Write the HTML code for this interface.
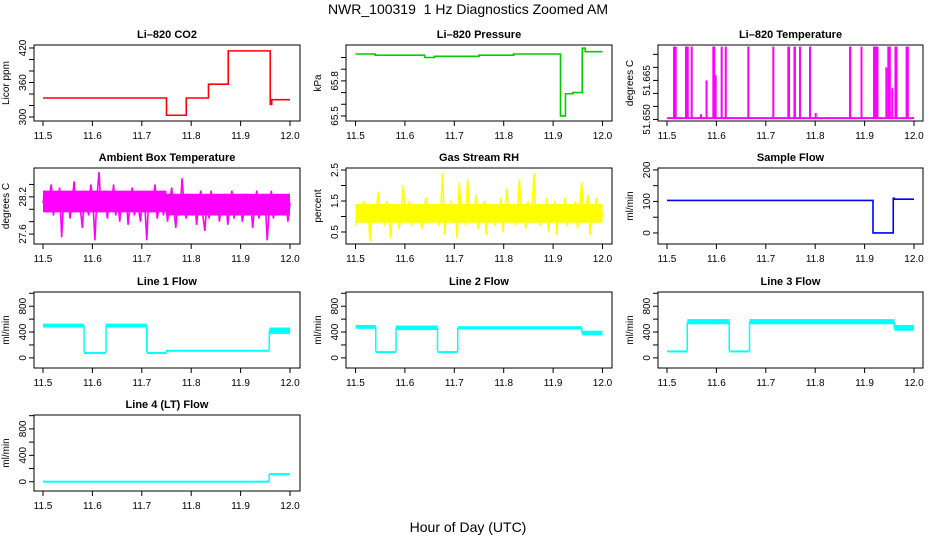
<!DOCTYPE html>
<html><head><meta charset="utf-8"><style>
html,body{margin:0;padding:0;background:#fff;}
svg{display:block;font-family:"Liberation Sans",sans-serif;}
</style></head><body>
<svg id="chart" width="936" height="540" viewBox="0 0 936 540">
<text x="468" y="14" text-anchor="middle" font-size="14" style="white-space:pre">NWR_100319  1 Hz Diagnostics Zoomed AM</text>
<text x="468" y="532" text-anchor="middle" font-size="14">Hour of Day (UTC)</text>
</svg>
<script>
// ---- data ----
const xTicks = [11.5, 11.6, 11.7, 11.8, 11.9, 12.0];
const xTickLabels = ["11.5", "11.6", "11.7", "11.8", "11.9", "12.0"];
const co2Times = [11.5, 11.75, 11.79, 11.835, 11.875, 11.96, 11.963, 12.0];
const co2Values = [333, 303, 333, 357, 415, 322, 330, 330];
const pressTimes = [11.5, 11.54, 11.64, 11.66, 11.75, 11.82, 11.915, 11.925, 11.94, 11.959, 11.965, 12.0];
const pressValues = [66.03, 66.02, 66.00, 66.01, 66.02, 66.03, 65.50, 65.69, 65.70, 66.08, 66.05, 66.05];
const tempBase = 51.6505;
const tempSpikeStart = [11.5142, 11.5385, 11.550, 11.5688, 11.580, 11.5938, 11.5985, 11.6107, 11.619, 11.6646, 11.7152, 11.7456, 11.758, 11.7692, 11.7895, 11.801, 11.8704, 11.8937, 11.919, 11.944, 11.948, 11.951, 11.956, 11.9625, 11.9645, 11.985];
const tempSpikeEnd = [11.5196, 11.544, 11.551, 11.569, 11.581, 11.5975, 11.599, 11.611, 11.621, 11.6667, 11.7173, 11.749, 11.761, 11.7695, 11.7915, 11.803, 11.873, 11.894, 11.928, 11.945, 11.949, 11.952, 11.958, 11.963, 11.965, 11.9895];
const tempSpikeValue = [51.678, 51.678, 51.678, 51.652, 51.665, 51.678, 51.667, 51.678, 51.678, 51.678, 51.678, 51.678, 51.678, 51.678, 51.678, 51.6525, 51.678, 51.678, 51.678, 51.670, 51.678, 51.678, 51.662, 51.678, 51.678, 51.678];
const ambientValues = [28.1,28.3,27.95,28.2,28.4,27.9,28.15,28.0,28.35,27.55,28.2,28.05,28.3,27.85,28.1,28.45,27.95,28.25,28.0,27.7,28.3,28.1,27.9,28.4,28.15,27.5,28.2,28.6,27.95,28.1,28.3,27.85,28.2,28.05,28.4,27.9,28.15,27.8,28.3,28.0,28.25,27.75,28.1,28.35,27.9,28.2,28.0,27.8,28.3,28.1,27.5,28.25,27.95,28.15,28.4,27.85,28.05,28.3,27.9,28.2,27.8,28.1,28.35,28.0,27.7,28.2,27.95,28.5,28.05,27.85,28.25,28.0,27.9,28.2,27.75,28.1,28.3,27.9,27.65,28.15,27.85,28.3,28.0,27.9,28.2,27.8,28.1,27.95,28.25,27.75,28.05,28.3,27.85,28.1,27.9,28.2,27.8,28.0,28.25,27.9,28.15,27.7,28.05,28.3,27.85,28.1,27.95,28.2,27.5,28.0,28.3,27.85,28.1,27.95,28.2,28.05,27.9,28.15,27.8,28.1];
const ambientBandLow = [27.95, 27.9];
const ambientBandHigh = [28.3, 28.25];
const rhValues = [0.7,1.4,0.8,1.2,1.5,0.9,1.3,0.2,1.4,0.8,1.2,1.8,0.9,1.1,0.7,1.5,1.0,0.3,1.4,0.9,1.3,0.6,1.2,2.0,0.8,1.1,1.5,0.7,1.3,0.9,1.4,1.0,0.6,1.2,1.6,0.8,1.1,1.4,0.9,1.3,0.7,1.2,2.4,0.4,1.3,0.9,1.5,0.8,1.2,0.3,2.1,0.9,1.4,0.7,2.2,1.0,1.3,0.8,1.7,0.6,1.2,0.9,1.5,0.4,1.3,1.0,1.4,0.7,1.2,0.9,1.6,0.5,1.3,1.9,0.8,1.1,1.4,0.7,1.2,2.2,0.9,1.3,0.6,1.5,1.0,1.2,2.4,0.8,1.4,0.7,1.3,1.0,1.6,0.5,1.2,0.9,1.5,0.4,1.3,0.8,1.2,1.6,0.7,1.4,0.9,1.1,1.5,0.6,1.3,2.1,0.8,1.2,1.7,0.4,1.4,0.9,1.6,0.8,1.4,1.0];
const rhBandLow = [0.8, 0.8];
const rhBandHigh = [1.4, 1.4];
const sampleTimes = [11.5, 11.917, 11.958, 11.96, 12.0];
const sampleValues = [103, 0, 110, 107, 107];
const line1Start = [11.5, 11.583, 11.6275, 11.71, 11.75, 11.958];
const line1End = [11.583, 11.6275, 11.71, 11.75, 11.958, 12.0];
const line1Low = [470, 80, 470, 80, 115, 370];
const line1High = [530, 90, 530, 90, 125, 470];
const line2Start = [11.5, 11.541, 11.582, 11.666, 11.707, 11.958];
const line2End = [11.541, 11.582, 11.666, 11.707, 11.958, 12.0];
const line2Low = [450, 95, 430, 95, 440, 350];
const line2High = [510, 105, 500, 105, 490, 420];
const line3Start = [11.5, 11.541, 11.626, 11.667, 11.96];
const line3End = [11.541, 11.626, 11.667, 11.96, 12.0];
const line3Low = [105, 520, 105, 520, 420];
const line3High = [115, 600, 115, 600, 510];
const line4Start = [11.5, 11.958];
const line4End = [11.958, 12.0];
const line4Low = [2, 110];
const line4High = [16, 130];
const co2Ticks = [300, 320, 340, 360, 380, 400, 420];
const co2Labels = ["300", "", "", "360", "", "", "420"];
const pressTicks = [65.5, 65.6, 65.7, 65.8, 65.9, 66.0];
const pressLabels = ["65.5", "", "", "65.8", "", ""];
const tempTicks = [51.650, 51.655, 51.660, 51.665, 51.670, 51.675];
const tempLabels = ["51.650", "", "", "51.665", "", ""];
const ambTicks = [27.6, 27.8, 28.0, 28.2, 28.4];
const ambLabels = ["27.6", "", "", "28.2", ""];
const rhTicks = [0.5, 1.0, 1.5, 2.0, 2.5];
const rhLabels = ["0.5", "", "1.5", "", "2.5"];
const sampleTicks = [0, 50, 100, 150, 200];
const sampleLabels = ["0", "", "100", "", "200"];
const flowTicks = [0, 200, 400, 600, 800, 1000];
const flowLabels = ["0", "", "400", "", "800", ""];

// ---- layout ----
const NS = "http://www.w3.org/2000/svg";
const svg = document.getElementById('chart');
const colLeft = [34, 346, 658], colRight = [300, 612, 923], colX0 = [43, 355.5, 667];
const rowTop = [45, 168, 292, 415], H = 76;
function mk(tag, attrs, parent) {
  const e = document.createElementNS(NS, tag);
  for (const k in attrs) e.setAttribute(k, attrs[k]);
  (parent || svg).appendChild(e);
  return e;
}
function makePanel(col, row, dom, title, ylab, ticks, labels, name) {
  const g = mk('g', {});
  
  
  const L = colLeft[col], R = colRight[col], T = rowTop[row], B = T + H;
  const sx = t => colX0[col] + (t - 11.5) / 0.5 * 247;
  const sy = v => B - (v - dom[0]) / (dom[1] - dom[0]) * H;
  const box = mk('rect', {x: L, y: T, width: R - L, height: H, fill: 'none', stroke: '#000', 'stroke-width': 1}, g);
  
  
  const tt = mk('text', {x: (L + R) / 2, y: T - 7, 'text-anchor': 'middle', 'font-size': 11, 'font-weight': 'bold'}, g);
  tt.textContent = title;
  
  
  const yl = mk('text', {x: 0, y: 0, 'text-anchor': 'middle', 'font-size': 10, transform: `translate(${L - 25},${(T + B) / 2}) rotate(-90)`}, g);
  yl.textContent = ylab;
  
  
  xTicks.forEach((t, i) => {
    mk('line', {x1: sx(t), x2: sx(t), y1: B, y2: B + 5, stroke: '#000'}, g);
    const lb = mk('text', {x: sx(t), y: B + 18, 'text-anchor': 'middle', 'font-size': 10}, g);
    lb.textContent = xTickLabels[i];
    
    
  });
  ticks.forEach((v, i) => {
    mk('line', {x1: L - 5, x2: L, y1: sy(v), y2: sy(v), stroke: '#000'}, g);
    if (labels[i]) {
      const lb = mk('text', {x: 0, y: 0, 'text-anchor': 'middle', 'font-size': 10, transform: `translate(${L - 8},${sy(v)}) rotate(-90)`}, g);
      lb.textContent = labels[i];
      
      
    }
  });
  return {g, sx, sy};
}
function stepPath(p, times, vals, color, name) {
  let d = `M${p.sx(times[0])},${p.sy(vals[0])}`;
  for (let i = 1; i < times.length; i++) d += ` H${p.sx(times[i])} V${p.sy(vals[i])}`;
  const e = mk('path', {d, fill: 'none', stroke: color, 'stroke-width': 1.6}, p.g);
  
  
}
function noisePath(p, vals, bandLo, bandHi, color, name) {
  const n = vals.length, m = bandLo.length;
  for (let j = 0; j < m; j++) {
    const t1 = 11.5 + 0.5 * j / m, t2 = 11.5 + 0.5 * (j + 1) / m;
    const r = mk('rect', {x: p.sx(t1), y: p.sy(bandHi[j]), width: p.sx(t2) - p.sx(t1), height: p.sy(bandLo[j]) - p.sy(bandHi[j]), fill: color}, p.g);
    
    
  }
  let d = '';
  vals.forEach((v, i) => { d += (i ? ' L' : 'M') + p.sx(11.5 + 0.5 * i / (n - 1)) + ',' + p.sy(v); });
  const e = mk('path', {d, fill: 'none', stroke: color, 'stroke-width': 1.6}, p.g);
  
  
}
function bandSteps(p, st, en, lo, hi, color, name) {
  for (let i = 0; i < st.length; i++) {
    const x1 = p.sx(st[i]), x2 = p.sx(en[i]);
    const y1 = p.sy(hi[i]), y2 = p.sy(lo[i]);
    const r = mk('rect', {x: x1, y: y1, width: Math.max(1, x2 - x1), height: Math.max(2, y2 - y1), fill: color}, p.g);
    
    
    if (i > 0) {
      const yPrev = p.sy((lo[i - 1] + hi[i - 1]) / 2), yCur = p.sy((lo[i] + hi[i]) / 2);
      const c = mk('line', {x1: x1, x2: x1, y1: yPrev, y2: yCur, stroke: color, 'stroke-width': 1.5}, p.g);
      
      
    }
  }
}

let p = makePanel(0, 0, [293.0, 425.2], 'Li\u2013820 CO2', 'Licor ppm', co2Ticks, co2Labels, 'co2');
stepPath(p, co2Times, co2Values, '#ff0000', 'co2-series');
p = makePanel(1, 0, [65.457, 66.107], 'Li\u2013820 Pressure', 'kPa', pressTicks, pressLabels, 'pressure');
stepPath(p, pressTimes, pressValues, '#00cc00', 'pressure-series');
p = makePanel(2, 0, [51.6494, 51.6786], 'Li\u2013820 Temperature', 'degrees C', tempTicks, tempLabels, 'li820-temp');
{
  const base = mk('line', {x1: p.sx(11.5), x2: p.sx(12.0), y1: p.sy(tempBase), y2: p.sy(tempBase), stroke: '#ff00ff', 'stroke-width': 2}, p.g);
  
  
  tempSpikeStart.forEach((t, i) => {
    const x1 = p.sx(t), x2 = p.sx(tempSpikeEnd[i]);
    const r = mk('rect', {x: x1 - 1, y: p.sy(tempSpikeValue[i]), width: Math.max(2, x2 - x1 + 1), height: p.sy(tempBase) - p.sy(tempSpikeValue[i]), fill: '#ff00ff'}, p.g);
    
    
  });
}
p = makePanel(0, 1, [27.44, 28.665], 'Ambient Box Temperature', 'degrees C', ambTicks, ambLabels, 'ambient-temp');
noisePath(p, ambientValues, ambientBandLow, ambientBandHigh, '#ff00ff', 'ambient-temp-series');
p = makePanel(1, 1, [0.113, 2.565], 'Gas Stream RH', 'percent', rhTicks, rhLabels, 'gas-rh');
noisePath(p, rhValues, rhBandLow, rhBandHigh, '#ffff00', 'gas-rh-series');
p = makePanel(2, 1, [-35, 206], 'Sample Flow', 'ml/min', sampleTicks, sampleLabels, 'sample-flow');
stepPath(p, sampleTimes, sampleValues, '#0000ff', 'sample-flow-series');
p = makePanel(0, 2, [-157, 1020], 'Line 1 Flow', 'ml/min', flowTicks, flowLabels, 'line1-flow');
bandSteps(p, line1Start, line1End, line1Low, line1High, '#00ffff', 'line1-flow');
p = makePanel(1, 2, [-157, 1020], 'Line 2 Flow', 'ml/min', flowTicks, flowLabels, 'line2-flow');
bandSteps(p, line2Start, line2End, line2Low, line2High, '#00ffff', 'line2-flow');
p = makePanel(2, 2, [-157, 1020], 'Line 3 Flow', 'ml/min', flowTicks, flowLabels, 'line3-flow');
bandSteps(p, line3Start, line3End, line3Low, line3High, '#00ffff', 'line3-flow');
p = makePanel(0, 3, [-140, 1010], 'Line 4 (LT) Flow', 'ml/min', flowTicks, flowLabels, 'line4-flow');
bandSteps(p, line4Start, line4End, line4Low, line4High, '#00ffff', 'line4-flow');
</script>
</body></html>
